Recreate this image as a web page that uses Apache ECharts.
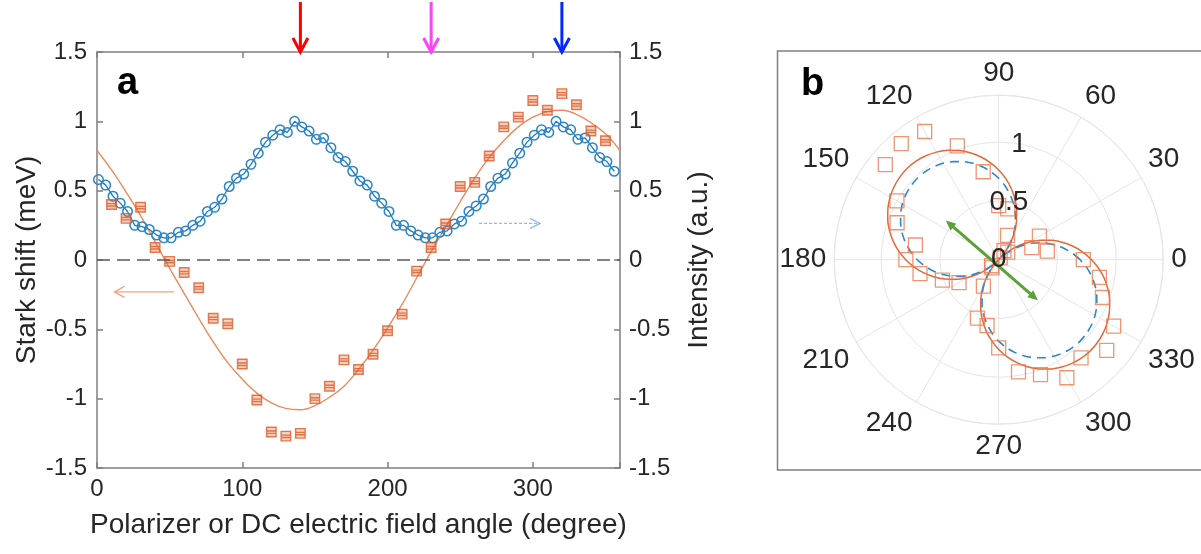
<!DOCTYPE html>
<html><head><meta charset="utf-8">
<script src="https://cdn.jsdelivr.net/npm/echarts@6/dist/echarts.min.js"></script>
<style>html,body{margin:0;padding:0;background:#fff}#c{width:1201px;height:554px}</style>
</head><body><div id="c"></div>
<script>
// ---------------- data ----------------
// panel a : Stark shift (meV) vs angle (deg)
const starkAngles = [10,20,30,40,50,60,70,80,90,100,110,120,130,140,150,160,170,180,190,200,210,220,230,240,250,260,270,280,290,300,310,320,330,340,350];
const starkShift  = [0.40,0.30,0.38,0.09,-0.01,-0.09,-0.20,-0.42,-0.46,-0.75,-1.01,-1.24,-1.27,-1.25,-1.00,-0.91,-0.72,-0.79,-0.68,-0.51,-0.39,-0.08,0.09,0.26,0.53,0.56,0.75,0.96,1.03,1.15,1.08,1.20,1.12,0.93,0.86];
// panel a : fitted Stark shift curve
const fitAngles = [0,10,20,30,40,50,60,70,80,90,100,110,120,130,140,150,160,170,180,190,200,210,220,230,240,250,260,270,280,290,300,310,320,330,340,350,360];
const fitShift  = [0.79,0.65,0.49,0.32,0.13,-0.06,-0.24,-0.42,-0.59,-0.74,-0.86,-0.96,-1.03,-1.07,-1.08,-1.05,-0.99,-0.91,-0.79,-0.65,-0.49,-0.32,-0.13,0.06,0.24,0.42,0.59,0.74,0.86,0.96,1.03,1.07,1.08,1.05,0.99,0.91,0.79];
// panel a : intensity (a.u.) vs angle
const intensityAngles = [1,6,11,16,21,26,31,36,41,46,51,56,61,66,71,76,81,86,91,96,101,106,111,116,121,126,131,136,141,146,151,156,161,166,171,176,181,186,191,196,201,206,211,216,221,226,231,236,241,246,251,256,261,266,271,276,281,286,291,296,301,306,311,316,321,326,331,336,341,346,351,356];
const intensity = [0.58,0.54,0.46,0.41,0.35,0.25,0.24,0.22,0.18,0.16,0.16,0.20,0.21,0.25,0.28,0.35,0.38,0.44,0.53,0.59,0.62,0.69,0.77,0.85,0.90,0.94,0.92,1.00,0.96,0.93,0.87,0.88,0.81,0.74,0.71,0.64,
                   0.57,0.54,0.46,0.41,0.35,0.25,0.25,0.21,0.18,0.16,0.16,0.20,0.21,0.26,0.28,0.35,0.39,0.44,0.53,0.59,0.62,0.70,0.77,0.85,0.90,0.94,0.92,1.00,0.96,0.94,0.87,0.88,0.81,0.74,0.71,0.64];
// panel a : marked polarizer angles (top arrows)
const markerAngles = [140,230,320];
const markerColors = ['#ff0000','#ff40ff','#0028ff'];
// panel a tick spacing
const xTickInterval = 100;
const yTickInterval = 0.5;

// panel b : |Stark shift| in polar form
const polarAngles = [0,10,20,30,40,50,60,70,80,90,100,110,120,130,140,150,160,170,180,190,200,210,220,230,240,250,260,270,280,290,300,310,320,330,340,350];
const polarShift  = [0.72,0.42,0.30,0.40,0.10,0.02,0.09,0.22,0.44,0.46,0.76,1.03,1.26,1.29,1.26,1.00,0.92,0.72,0.79,0.68,0.51,0.39,0.08,0.09,0.26,0.53,0.57,0.75,0.97,1.04,1.16,1.09,1.20,1.13,0.94,0.87];
const polarFitAngles = [0,5,10,15,20,25,30,35,40,45,50,55,60,65,70,75,80,85,90,95,100,105,110,115,120,125,130,135,140,145,150,155,160,165,170,175,
                        180,185,190,195,200,205,210,215,220,225,230,235,240,245,250,255,260,265,270,275,280,285,290,295,300,305,310,315,320,325,330,335,340,345,350,355,360];
const polarFitShift = [0.791,0.722,0.647,0.567,0.482,0.394,0.303,0.210,0.115,0.019,0.077,0.172,0.266,0.358,0.447,0.533,0.615,0.692,0.764,0.830,0.890,0.943,0.989,1.027,1.057,1.080,1.094,1.100,1.097,1.086,1.067,1.040,1.005,0.962,0.912,0.855,
                       0.791,0.722,0.647,0.567,0.482,0.394,0.303,0.210,0.115,0.019,0.077,0.172,0.266,0.358,0.447,0.533,0.615,0.692,0.764,0.830,0.890,0.943,0.989,1.027,1.057,1.080,1.094,1.100,1.097,1.086,1.067,1.040,1.005,0.962,0.912,0.855,0.791];
const polarFitIntensity = [0.693,0.630,0.562,0.490,0.414,0.335,0.254,0.170,0.085,0.000,0.085,0.170,0.254,0.335,0.414,0.490,0.562,0.630,0.693,0.751,0.803,0.849,0.888,0.921,0.947,0.965,0.976,0.980,0.976,0.965,0.947,0.921,0.888,0.849,0.803,0.751,
                           0.693,0.630,0.562,0.490,0.414,0.335,0.254,0.170,0.085,0.000,0.085,0.170,0.254,0.335,0.414,0.490,0.562,0.630,0.693,0.751,0.803,0.849,0.888,0.921,0.947,0.965,0.976,0.980,0.976,0.965,0.947,0.921,0.888,0.849,0.803,0.751,0.693];
// panel b : field direction arrow ends [radius, angle]
const fieldArrow = [[0.56,143.5],[0.48,314]];
const radiusLabels = [0,0.5,1];
const radiusLabelAngle = 80;

// ---------------- chart ----------------
const TXT = '#262626', AX = '#7f7f7f', GRIDC = '#e6e6e6';
const FONT = "'Liberation Sans', Arial, Helvetica, sans-serif";
const chart = echarts.init(document.getElementById('c'), null, {renderer:'canvas'});

const axisCommon = {
  type:'value', splitLine:{show:false},
  axisLine:{show:true,onZero:false,lineStyle:{color:AX,width:1.5}},
  axisTick:{show:true,inside:true,length:6,lineStyle:{color:AX,width:1.5}}
};

const option = {
  animation:false,
  backgroundColor:'#ffffff',
  textStyle:{fontFamily:FONT},
  grid:{left:97, top:52, width:523, height:416},
  xAxis:[
    Object.assign({}, axisCommon, {min:0,max:360,interval:xTickInterval,position:'bottom',
      axisLabel:{color:TXT,fontSize:24,margin:9,fontFamily:FONT,formatter:v=>v===360?'':String(v)},
      name:'Polarizer or DC electric field angle (degree)', nameLocation:'middle', nameGap:43,
      nameTextStyle:{color:TXT,fontSize:28,fontFamily:FONT}}),
    Object.assign({}, axisCommon, {min:0,max:360,interval:xTickInterval,position:'top',axisLabel:{show:false}})
  ],
  yAxis:[
    Object.assign({}, axisCommon, {min:-1.5,max:1.5,interval:yTickInterval,position:'left',
      axisLabel:{color:TXT,fontSize:24,margin:10,fontFamily:FONT},
      name:'Stark shift (meV)', nameLocation:'middle', nameGap:53,
      nameTextStyle:{color:TXT,fontSize:28,fontFamily:FONT}}),
    Object.assign({}, axisCommon, {min:-1.5,max:1.5,interval:yTickInterval,position:'right',
      axisLabel:{color:TXT,fontSize:24,margin:9,fontFamily:FONT},
      name:'Intensity (a.u.)', nameLocation:'middle', nameGap:65,
      nameTextStyle:{color:TXT,fontSize:28,fontFamily:FONT}})
  ],
  polar:{center:[998.7,259.7], radius:164.5},
  angleAxis:{type:'value',min:0,max:360,interval:30,startAngle:0,clockwise:false,
    axisLine:{show:true,lineStyle:{color:GRIDC,width:1}},
    axisTick:{show:false},
    axisLabel:{color:TXT,fontSize:28,margin:8,fontFamily:FONT,formatter:v=>v===360?'':String(v)},
    splitLine:{show:true,lineStyle:{color:GRIDC,width:1}}},
  radiusAxis:{type:'value',min:0,max:1.4,interval:0.5,
    axisLine:{show:false},axisTick:{show:false},axisLabel:{show:false},
    splitLine:{show:true,lineStyle:{color:GRIDC,width:1}}},
  series:[
    {type:'line', xAxisIndex:0, yAxisIndex:0, smooth:0.4, symbol:'none', z:2,
     data:fitAngles.map((a,i)=>[a,fitShift[i]]),
     lineStyle:{color:'#ec8a5e',width:1.4},
     markLine:{silent:true,symbol:['none','none'],label:{show:false},
       lineStyle:{color:'#5a5a5a',type:[13,7],width:1.5},data:[{yAxis:0}]}},
    {type:'scatter', xAxisIndex:0, yAxisIndex:0, z:4,
     symbol:'path://M0,0L10,0L10,10L0,10Z M0,4L10,4 M0,6.5L10,6.5',
     symbolSize:9.5,
     data:starkAngles.map((a,i)=>[a,starkShift[i]]),
     itemStyle:{color:'rgba(232,110,60,0.40)',borderColor:'#dd5a26',borderWidth:1.4}},
    {type:'line', xAxisIndex:0, yAxisIndex:1, z:3, symbol:'circle', symbolSize:9.5, showAllSymbol:true,
     data:intensityAngles.map((a,i)=>[a,intensity[i]]),
     lineStyle:{color:'#1f7bc2',width:1.3},
     itemStyle:{color:'rgba(255,255,255,0)',borderColor:'#2a84c8',borderWidth:1.5}},
    {type:'line', coordinateSystem:'polar', symbol:'none', z:3, smooth:0.2,
     data:polarFitAngles.map((a,i)=>[polarFitShift[i],a]),
     lineStyle:{color:'#e5683a',width:1.5}},
    {type:'line', coordinateSystem:'polar', symbol:'none', z:3, smooth:0.2,
     data:polarFitAngles.map((a,i)=>[polarFitIntensity[i],a]),
     lineStyle:{color:'#2c88cc',width:1.6,type:[9,6]}},
    {type:'scatter', coordinateSystem:'polar', symbol:'rect', symbolSize:14, z:4,
     data:polarAngles.map((a,i)=>[polarShift[i],a]),
     itemStyle:{color:'rgba(255,255,255,0)',borderColor:'#eb7a50',borderWidth:1.3}}
  ]
};
chart.setOption(option);

// ---------------- annotations positioned through the library's scales ----------------
const g = [];
function unit(a,b){const dx=a[0]-b[0],dy=a[1]-b[1],L=Math.hypot(dx,dy);return [dx/L,dy/L];}
function chevron(tip, from, len, half, color, w){
  const u=unit(tip,from), bx=tip[0]-u[0]*len, by=tip[1]-u[1]*len;
  return {type:'polyline',z:50,shape:{points:[[bx-u[1]*half,by+u[0]*half],tip,[bx+u[1]*half,by-u[0]*half]]},
          style:{stroke:color,lineWidth:w,fill:null,lineJoin:'miter'}};
}
function tri(tip, from, len, half, color){
  const u=unit(tip,from), bx=tip[0]-u[0]*len, by=tip[1]-u[1]*len;
  return {type:'polygon',z:50,shape:{points:[tip,[bx-u[1]*half,by+u[0]*half],[bx+u[1]*half,by-u[0]*half]]},
          style:{fill:color}};
}
// top arrows
const yTopAxis = chart.convertToPixel({yAxisIndex:0}, 1.5);
markerAngles.forEach((a,i)=>{
  const x = chart.convertToPixel({xAxisIndex:0}, a);
  const tip=[x,yTopAxis], tail=[x,yTopAxis-50];
  g.push({type:'line',z:50,shape:{x1:tail[0],y1:tail[1],x2:tip[0],y2:tip[1]-1},style:{stroke:markerColors[i],lineWidth:3}});
  g.push(chevron(tip,tail,14,7.5,markerColors[i],3));
});
// small axis-indicator arrows in panel a
const oA = chart.convertToPixel({seriesIndex:1},[53,-0.23]);
const oB = chart.convertToPixel({seriesIndex:1},[12,-0.23]);
g.push({type:'line',z:50,shape:{x1:oA[0],y1:oA[1],x2:oB[0],y2:oB[1]},style:{stroke:'#f3a27c',lineWidth:1.3}});
g.push(chevron(oB,oA,10,5.5,'#f3a27c',1.3));
const bA = chart.convertToPixel({seriesIndex:2},[263,0.264]);
const bB = chart.convertToPixel({seriesIndex:2},[305,0.264]);
g.push({type:'line',z:50,shape:{x1:bA[0],y1:bA[1],x2:bB[0],y2:bB[1]},style:{stroke:'#8dbbe6',lineWidth:1.2,lineDash:[3,2]}});
g.push(chevron(bB,bA,10,5,'#8dbbe6',1.2));
// green field arrow in panel b
const p1 = chart.convertToPixel({seriesIndex:5}, fieldArrow[0]);
const p2 = chart.convertToPixel({seriesIndex:5}, fieldArrow[1]);
const gc = '#5ca135';
const u12 = unit(p1,p2);
g.push({type:'line',z:50,shape:{x1:p1[0]-u12[0]*6,y1:p1[1]-u12[1]*6,x2:p2[0]+u12[0]*6,y2:p2[1]+u12[1]*6},style:{stroke:gc,lineWidth:3}});
g.push(tri(p1,p2,10,4.5,gc));
g.push(tri(p2,p1,10,4.5,gc));
// radius labels along 80 deg
radiusLabels.forEach(r=>{
  const p = chart.convertToPixel({seriesIndex:5},[r,radiusLabelAngle]);
  g.push({type:'text',z:60,x:p[0],y:p[1],style:{text:String(r),fill:TXT,font:"28px 'Liberation Sans', Arial, sans-serif",textAlign:'center',textVerticalAlign:'middle'}});
});
// panel b frame
g.push({type:'rect',z:1,shape:{x:777.5,y:51,width:460,height:419},style:{stroke:AX,lineWidth:1.5,fill:null}});
// panel letters
g.push({type:'text',z:60,x:117,y:84,style:{text:'a',fill:'#000',font:"bold 38px 'Liberation Sans', Arial, sans-serif",textVerticalAlign:'middle'}});
g.push({type:'text',z:60,x:801,y:85,style:{text:'b',fill:'#000',font:"bold 38px 'Liberation Sans', Arial, sans-serif",textVerticalAlign:'middle'}});
chart.setOption({graphic:g});
</script>
</body></html>
